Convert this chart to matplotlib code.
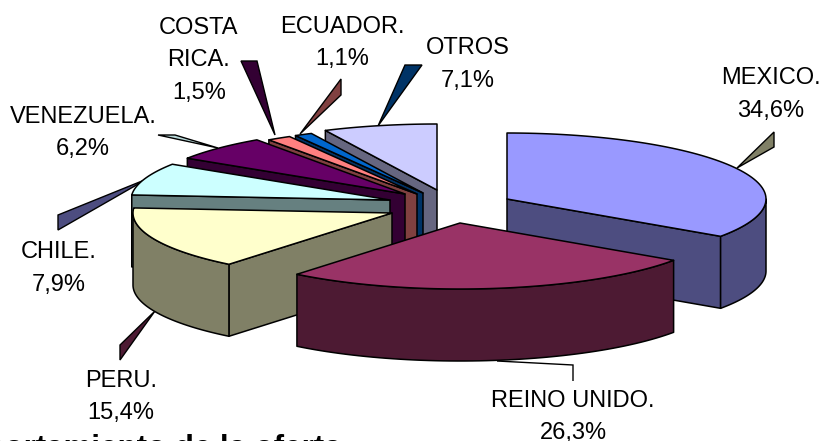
import numpy as np
import matplotlib
matplotlib.use("Agg")
import matplotlib.pyplot as plt
from matplotlib.patches import Polygon

plt.rcParams['font.family'] = ['Liberation Sans', 'DejaVu Sans']

# datos del grafico
paises = ["MEXICO.", "REINO UNIDO.", "PERU.", "CHILE.", "VENEZUELA.", "COSTA\nRICA.", "ECUADOR.", "OTROS"]
valores = [34.6, 26.3, 15.4, 7.9, 6.2, 1.5, 1.1, 7.1]

# colores de cada porcion: cara superior, costado y linea guia
color_top = ["#9999FF", "#993366", "#FFFFCC", "#CCFFFF", "#660066", "#FF8080", "#0066CC", "#CCCCFF"]
color_side = ["#4D4D80", "#4D1A33", "#808066", "#668080", "#330033", "#804040", "#003366", "#666680"]
color_guia = ["#808066", "none", "#4D1A33", "#4D4D80", "#B8D8D8", "#330033", "#804040", "#003366"]

# posicion del vertice de cada porcion separada (pixeles de la figura)
centros = [(507, 199), (460, 223), (392, 213), (390, 200), (405, 194), (417, 194), (423, 193), (437, 190)]
RX, RY, ALTO = 259, 66, 72

# lineas guia: punta junto a la porcion y los dos puntos junto a la etiqueta
guias = [
    [(737, 168), (774, 132), (774, 147)],
    [(497, 361), (573, 365), (573, 381)],
    [(155, 311), (120, 345), (120, 360)],
    [(147, 179), (58, 215), (58, 230)],
    [(218, 148), (158, 135), (175, 135)],
    [(275, 135), (241, 61), (257, 61)],
    [(300, 134), (341, 79), (341, 95)],
    [(378, 126), (405, 65), (422, 65)],
]

# centro x e y de la primera linea de cada etiqueta
etiquetas = [(771, 78), (573, 401), (121, 381), (59, 252), (83, 117), (199, 28), (342, 27), (468, 48)]

orden_dibujo = [7, 6, 5, 4, 3, 2, 0, 1]


def punto(centro, ang):
    rad = np.radians(ang)
    return centro[0] + RX * np.sin(rad), centro[1] - RY * np.cos(rad)


def dibujar_porcion(ax, centro, ini, fin, top, side, z):
    borde = dict(edgecolor='black', linewidth=1.1, joinstyle='round')
    cx, cy = centro

    # paredes radiales visibles
    for ang, signo in ((ini, -1), (fin, 1)):
        if signo * np.sin(np.radians(ang)) > 1e-6:
            x, y = punto(centro, ang)
            pared = [(cx, cy), (x, y), (x, y + ALTO), (cx, cy + ALTO)]
            ax.add_patch(Polygon(pared, facecolor=side, zorder=z, **borde))

    # borde curvo, solo la parte frontal
    a0, a1 = max(ini, 90), min(fin, 270)
    if a1 > a0:
        arco = [punto(centro, a) for a in np.linspace(a0, a1, 60)]
        lado = arco + [(x, y + ALTO) for x, y in reversed(arco)]
        ax.add_patch(Polygon(lado, facecolor=side, zorder=z, **borde))

    # cara superior
    arco = [punto(centro, a) for a in np.linspace(ini, fin, 80)]
    ax.add_patch(Polygon([centro] + arco, facecolor=top, zorder=z, **borde))


def main() -> None:
    fig = plt.figure(figsize=(8.2, 4.41), dpi=100)
    ax = fig.add_axes([0, 0, 1, 1])
    ax.set_xlim(0, 820)
    ax.set_ylim(441, 0)
    ax.axis('off')

    total = sum(valores)
    limites = np.concatenate(([0], np.cumsum(valores))) / total * 360

    for z, i in enumerate(orden_dibujo):
        dibujar_porcion(ax, centros[i], limites[i], limites[i + 1], color_top[i], color_side[i], 5 + z)

    for i, guia in enumerate(guias):
        cerrada = color_guia[i] != "none"
        ax.add_patch(Polygon(guia, closed=cerrada, facecolor=color_guia[i], edgecolor='black',
                             linewidth=1.0, zorder=3))

    for nombre, valor, (x, y) in zip(paises, valores, etiquetas):
        lineas = nombre.split("\n") + [f"{valor:.1f}".replace(".", ",") + "%"]
        for n, linea in enumerate(lineas):
            ax.text(x, y + 32.5 * n, linea, fontsize=17, ha='center', va='center', color='black', zorder=20)

    ax.text(342, 457, "Comportamiento de la oferta", fontsize=22.5, fontweight='bold',
            ha='right', va='baseline', color='black', zorder=20, clip_on=True)

    fig.savefig("out.png", dpi=100, facecolor='white')


if __name__ == '__main__':
    main()
